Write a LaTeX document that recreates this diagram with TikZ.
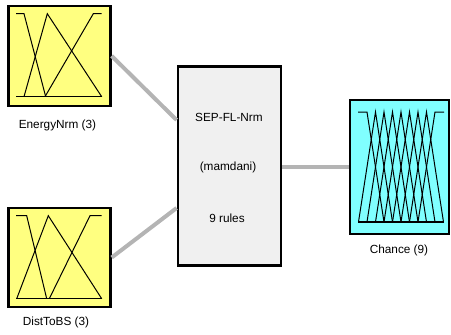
\documentclass[tikz,border=0pt]{standalone}
\usepackage{fontspec}
\setmainfont{Liberation Sans}
\definecolor{inyellow}{RGB}{255,255,128}
\definecolor{outcyan}{RGB}{128,255,255}
\definecolor{rulegray}{RGB}{240,240,240}
\definecolor{linkgray}{RGB}{180,180,180}
\tikzset{
  varbox/.style={draw=black,line width=2.4pt,inner sep=0pt},
  lbl/.style={inner sep=0pt,font=\fontsize{11.8}{14}\selectfont},
  link/.style={draw=linkgray,line width=4pt},
  mf/.style={black,line width=1pt},
}
\begin{document}
\begin{tikzpicture}[x=1pt,y=-1pt]
    \useasboundingbox (0,0) rectangle (451,335);
    % boxes
    \node[varbox,fill=inyellow,minimum width=102pt,minimum height=100pt] (energy) at (59.4,55.9) {};
    \node[varbox,fill=inyellow,minimum width=102pt,minimum height=99pt] (dist) at (59.5,257.5) {};
    \node[varbox,fill=rulegray,minimum width=103pt,minimum height=199pt] (fis) at (229.3,166) {};
    \node[varbox,fill=outcyan,minimum width=99pt,minimum height=133.5pt] (chance) at (399.2,167) {};
    % connectors
    \draw[link] (energy.east) -- ([yshift=46pt]fis.west);
    \draw[link] (dist.east) -- ([yshift=-42pt]fis.west);
    \draw[link] (fis.east |- chance.west) -- (chance.west);
    % EnergyNrm membership functions
    \draw[mf] (16,96.7) -- (101.7,96.7);
    \draw[mf] (16,13.7) -- (24,13.7) -- (45.7,96.7);
    \draw[mf] (24,96.7) -- (47.3,13.7) -- (101.7,96.7);
    \draw[mf] (45,96.7) -- (93.3,13.7) -- (101.7,13.7);
    % DistToBS membership functions
    \draw[mf] (16,298.7) -- (101.7,298.7);
    \draw[mf] (16,215.7) -- (26.7,215.7) -- (46.7,298.7);
    \draw[mf] (16.7,298.7) -- (48.3,215.7) -- (101.7,298.7);
    \draw[mf] (49.3,298.7) -- (90,215.7) -- (101.7,215.7);
    % Chance membership functions
    \draw[mf,line width=1.8pt] (358,222) -- (443.5,222);
    \draw[mf] (358,112) -- (367,112) -- (384,222);
    \foreach \i in {1,...,7}
      \draw[mf] ({350+8.5*\i},222) -- ({367+8.5*\i},112) -- ({384+8.5*\i},222);
    \draw[mf] (418,222) -- (435,112) -- (444,112);
    % texts
    \node[lbl] (energylbl) at (57.5,125) {EnergyNrm (3)};
    \node[lbl] (distlbl) at (56,322) {DistToBS (3)};
    \node[lbl] (chancelbl) at (399,250) {Chance (9)};
    \node[lbl] (fisname) at (229,117) {SEP-FL-Nrm};
    \node[lbl] (fistype) at (228,167) {(mamdani)};
    \node[lbl] (fisrules) at (227,218) {9 rules};
\end{tikzpicture}
\end{document}
